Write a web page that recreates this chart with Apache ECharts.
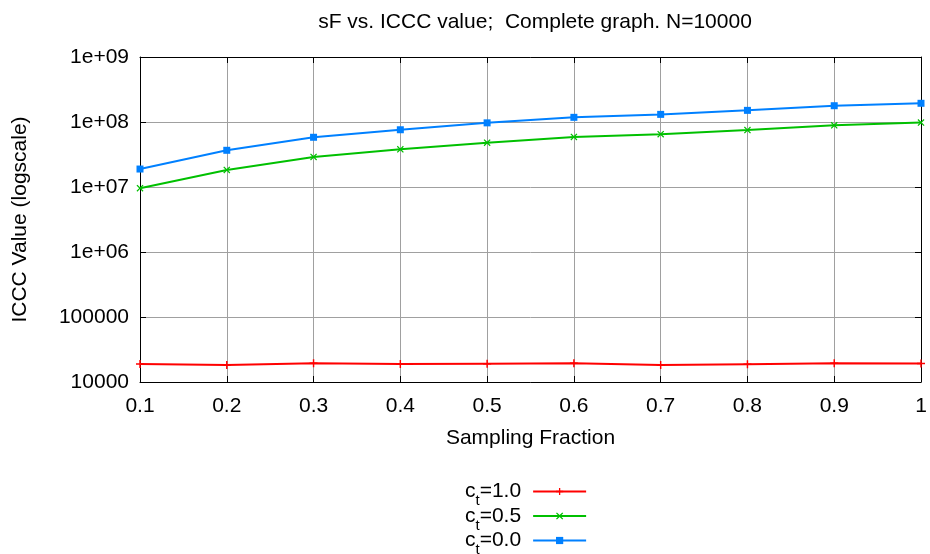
<!DOCTYPE html>
<html>
<head>
<meta charset="utf-8">
<script src="https://cdn.jsdelivr.net/npm/echarts@6/dist/echarts.min.js"></script>
<style>html,body{margin:0;padding:0;background:#fff}#c{width:930px;height:554px}</style>
</head>
<body>
<div id="c"></div>
<script>
const xValues = [0.1, 0.2, 0.3, 0.4, 0.5, 0.6, 0.7, 0.8, 0.9, 1.0];
const ct10 = [18900, 18300, 19400, 18900, 19100, 19400, 18300, 18800, 19400, 19200];
const ct05 = [9.6e6, 1.83e7, 2.9e7, 3.8e7, 4.8e7, 5.9e7, 6.5e7, 7.5e7, 8.9e7, 9.8e7];
const ct00 = [1.89e7, 3.67e7, 5.82e7, 7.6e7, 9.7e7, 1.18e8, 1.31e8, 1.51e8, 1.78e8, 1.94e8];
const seriesNames = ['c_t=1.0', 'c_t=0.5', 'c_t=0.0'];
const legendLabels = ['1.0', '0.5', '0.0'];
const titleText = 'sF vs. ICCC value;  Complete graph. N=10000';
const xName = 'Sampling Fraction';
const yName = 'ICCC Value (logscale)';

const FONT = '"Liberation Sans", Arial, sans-serif';
const FS = 21;
const plusPath = 'path://M-0.18,-1 L0.18,-1 L0.18,-0.18 L1,-0.18 L1,0.18 L0.18,0.18 L0.18,1 L-0.18,1 L-0.18,0.18 L-1,0.18 L-1,-0.18 L-0.18,-0.18 Z';
const crossPath = 'path://M-1,-0.75 L-0.75,-1 L0,-0.25 L0.75,-1 L1,-0.75 L0.25,0 L1,0.75 L0.75,1 L0,0.25 L-0.75,1 L-1,0.75 L-0.25,0 Z';

function pairs(ys) { return xValues.map((x, i) => [x, ys[i]]); }
function yFmt(v) {
  const e = Math.round(Math.log10(v));
  if (e >= 6) return '1e+' + (e < 10 ? '0' + e : e);
  return String(Math.round(v));
}
const chart = echarts.init(document.getElementById('c'));
const axisLineStyle = { color: '#000', width: 1 };
chart.setOption({
  animation: false,
  backgroundColor: '#fff',
  title: {
    text: titleText, left: 530, top: 7, textAlign: 'center',
    textStyle: { fontFamily: FONT, fontSize: FS, fontWeight: 'normal', color: '#000' }
  },
  grid: { left: 140, right: 9, top: 57, bottom: 172 },
  legend: {
    orient: 'vertical', left: 465, top: 481, height: 120, padding: 0, align: 'right',
    itemWidth: 53, itemHeight: 9, itemGap: -3,
    data: seriesNames,
    formatter: function (name) {
      const i = seriesNames.indexOf(name);
      return '{c|c}{s|t}{c|=' + legendLabels[i] + '}{g|}';
    },
    textStyle: {
      fontFamily: FONT, fontSize: FS, color: '#000',
      rich: {
        c: { fontFamily: FONT, fontSize: FS, color: '#000', verticalAlign: 'middle', lineHeight: 22 },
        s: { fontFamily: FONT, fontSize: 15, color: '#000', verticalAlign: 'bottom', lineHeight: 16 },
        g: { width: 7, lineHeight: 34, verticalAlign: 'middle' }
      }
    }
  },
  xAxis: [{
    type: 'value', min: 0.1, max: 1, interval: 0.1,
    name: xName, nameLocation: 'middle', nameGap: 46,
    nameTextStyle: { fontFamily: FONT, fontSize: FS, color: '#000' },
    axisLine: { show: true, lineStyle: axisLineStyle },
    axisTick: { show: true, inside: true, length: 6, lineStyle: axisLineStyle },
    axisLabel: { fontFamily: FONT, fontSize: FS, color: '#000', margin: 14,
      formatter: v => String(Math.round(v * 10) / 10) },
    splitLine: { show: true, lineStyle: { color: '#a0a0a0', width: 1 } }
  }, {
    type: 'value', min: 0.1, max: 1, interval: 0.1, position: 'top',
    axisLine: { show: true, lineStyle: axisLineStyle },
    axisTick: { show: true, inside: true, length: 6, lineStyle: axisLineStyle },
    axisLabel: { show: false }, splitLine: { show: false }
  }],
  yAxis: [{
    type: 'log', logBase: 10, min: 1e4, max: 1e9,
    name: yName, nameLocation: 'middle', nameGap: 109, nameRotate: 90,
    nameTextStyle: { fontFamily: FONT, fontSize: FS, color: '#000' },
    axisLine: { show: true, lineStyle: axisLineStyle },
    axisTick: { show: true, inside: true, length: 6, lineStyle: axisLineStyle },
    axisLabel: { fontFamily: FONT, fontSize: FS, color: '#000', margin: 11, formatter: yFmt },
    splitLine: { show: true, lineStyle: { color: '#a0a0a0', width: 1 } }
  }, {
    type: 'log', logBase: 10, min: 1e4, max: 1e9, position: 'right',
    axisLine: { show: true, lineStyle: axisLineStyle },
    axisTick: { show: true, inside: true, length: 6, lineStyle: axisLineStyle },
    axisLabel: { show: false }, splitLine: { show: false }
  }],
  series: [{
    name: seriesNames[0], type: 'line', data: pairs(ct10),
    symbol: plusPath, symbolSize: 8, showAllSymbol: true,
    itemStyle: { color: '#ff0000' }, lineStyle: { color: '#ff0000', width: 2 }
  }, {
    name: seriesNames[1], type: 'line', data: pairs(ct05),
    symbol: crossPath, symbolSize: 7, showAllSymbol: true,
    itemStyle: { color: '#00c000' }, lineStyle: { color: '#00c000', width: 2 }
  }, {
    name: seriesNames[2], type: 'line', data: pairs(ct00),
    symbol: 'rect', symbolSize: 7, showAllSymbol: true,
    itemStyle: { color: '#0080ff' }, lineStyle: { color: '#0080ff', width: 2 }
  }]
});
</script>
</body>
</html>
